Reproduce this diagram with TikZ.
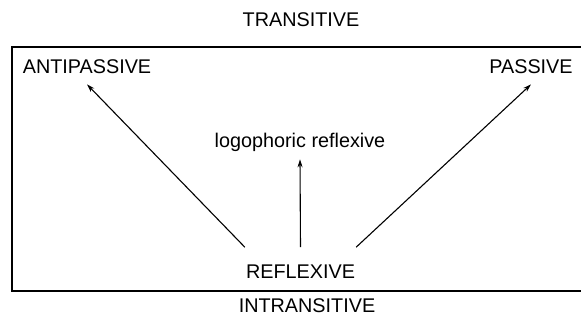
\documentclass[tikz,border=0pt]{standalone}
\usepackage{fontspec}
\setmainfont{Liberation Sans}
\usetikzlibrary{arrows.meta}

\begin{document}
\begin{tikzpicture}[
		x=1pt, y=-1pt,
		font=\fontsize{19.8}{24}\selectfont,
		lbl/.style={inner sep=0pt, anchor=base},
		>=Stealth,
		arr/.style={-{Stealth[length=8pt, width=5pt]}, line width=1.1pt}
	]
	\useasboundingbox (0,0) rectangle (581,324);

	% quadro (lado direito fora da figura)
	\draw[line width=1.3pt] (585,47) -- (12,47) -- (12,291) -- (585,291);

	% rotulos de fora
	\node[lbl] (trans) at (301,27) {TRANSITIVE};
	\node[lbl] (intrans) at (307,312) {INTRANSITIVE};

	% rotulos de dentro
	\node[lbl, inner ysep=11pt] (anti) at (87,73) {ANTIPASSIVE};
	\node[lbl, inner ysep=11pt] (pass) at (531,73) {PASSIVE};
	\node[lbl, inner ysep=8pt] (logo) at (300,147) {logophoric reflexive};
	\node[lbl, inner xsep=1pt, inner ysep=17pt] (refl) at (300.5,278) {REFLEXIVE};

	\draw[arr] (refl.north west) -- (anti.south);
	\draw[arr] (refl.north) -- (logo.south);
	\draw[arr] (refl.north east) -- (pass.south);
\end{tikzpicture}
\end{document}
